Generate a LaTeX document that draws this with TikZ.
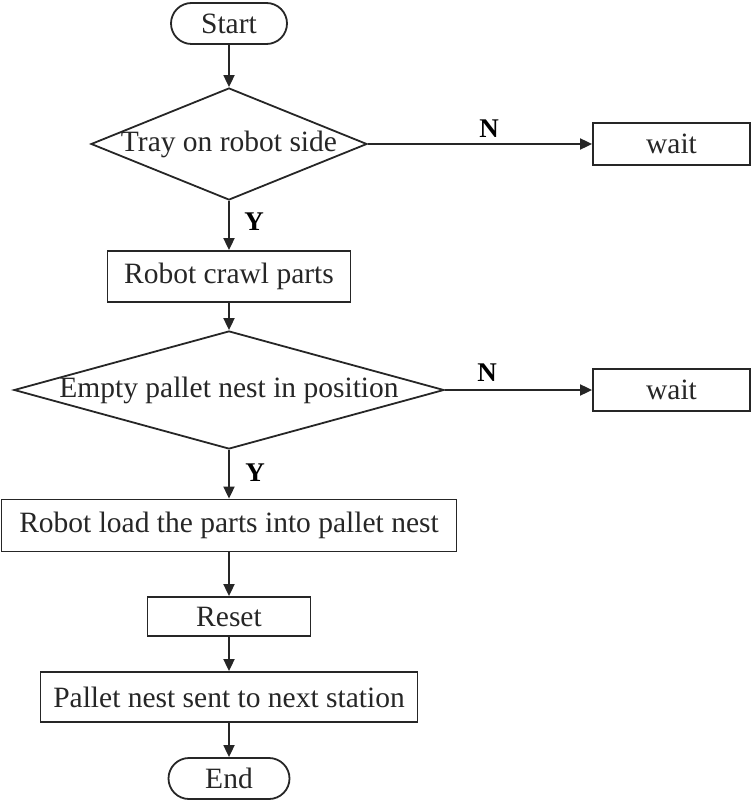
\documentclass[tikz,border=0pt]{standalone}
\usepackage{fontspec}
\setmainfont{Liberation Serif}
\usetikzlibrary{shapes.geometric,shapes.misc,arrows.meta}
\begin{document}
\begin{tikzpicture}[x=1pt,y=-1pt,
  every node/.style={font=\fontsize{29.5}{31}\selectfont, text=black!85, inner sep=0pt},
  proc/.style={draw=black!85, line width=1.8pt, rectangle},
  term/.style={draw=black!85, line width=1.8pt, rounded rectangle},
  decide/.style={draw=black!85, line width=1.8pt, diamond},
  lbl/.style={font=\bfseries\fontsize{27}{29}\selectfont, text=black},
  arr/.style={line width=1.8pt, draw=black!85, -{Triangle[length=12pt,width=11pt]}}]
\useasboundingbox (0,0) rectangle (751,802);
\node[term, minimum width=116, minimum height=41] (start) at (229,23.5) {Start};
\node[decide, minimum width=276, minimum height=112] (d1) at (229,144) {\makebox[0pt]{Tray on robot side}};
\node[proc, minimum width=157, minimum height=42] (w1) at (671.5,144) {wait};
\node[proc, minimum width=243, minimum height=51] (crawl) at (229,276.5) {Robot crawl parts};
\node[decide, minimum width=430, minimum height=118] (d2) at (229,390) {\makebox[0pt]{Empty pallet nest in position}};
\node[proc, minimum width=157, minimum height=42] (w2) at (671.5,390) {wait};
\node[proc, minimum width=455, minimum height=52] (load) at (229,525.5) {Robot load the parts into pallet nest};
\node[proc, minimum width=163, minimum height=39] (reset) at (229,616.5) {Reset};
\node[proc, minimum width=377, minimum height=50] (send) at (229,697) {Pallet nest sent to next station};
\node[term, minimum width=121, minimum height=41] (stop) at (229,778.5) {End};
\node[lbl] (n1) at (489,129) {N};
\node[lbl] (n2) at (487,373) {N};
\node[lbl] (y1) at (254,222) {Y};
\node[lbl] (y2) at (255,473) {Y};
\draw[arr] (start) -- (d1);
\draw[arr] (d1.east) -- (w1.west);
\draw[arr] (d1.south) -- (crawl.north);
\draw[arr] (crawl) -- (d2.north);
\draw[arr] (d2.east) -- (w2.west);
\draw[arr] (d2.south) -- (load.north);
\draw[arr] (load) -- (reset);
\draw[arr] (reset) -- (send);
\draw[arr] (send) -- (stop);
\end{tikzpicture}
\end{document}
